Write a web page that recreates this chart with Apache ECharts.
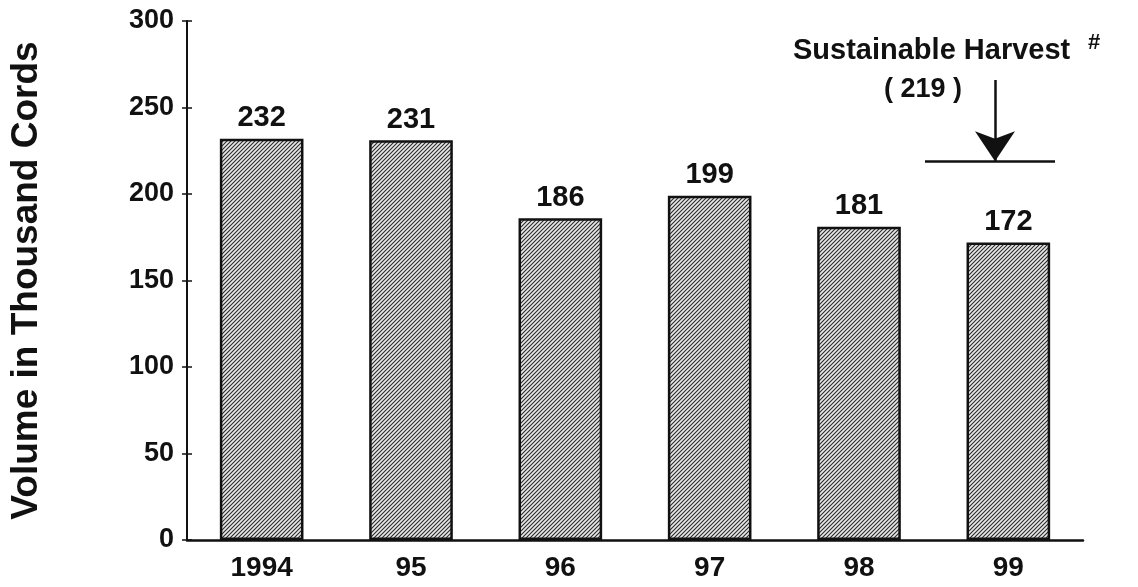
<!DOCTYPE html>
<html>
<head>
<meta charset="utf-8">
<script src="https://cdn.jsdelivr.net/npm/echarts@6/dist/echarts.min.js"></script>
<style>
html,body{margin:0;padding:0;background:#fff;}
#chart{width:1138px;height:587px;}
</style>
</head>
<body>
<div id="chart"></div>
<script>
const categories = ['1994', '95', '96', '97', '98', '99'];
const volumes = [232, 231, 186, 199, 181, 172];
const sustainableHarvest = 219;
const yTicks = { min: 0, max: 300, interval: 50 };
const axisTitle = 'Volume in Thousand Cords';
const annotationTitle = 'Sustainable Harvest';
const annotationValue = '( 219 )';

function makeHatch() {
  const c = document.createElement('canvas');
  c.width = 4; c.height = 4;
  const ctx = c.getContext('2d');
  ctx.fillStyle = '#e8e8e8';
  ctx.fillRect(0, 0, 4, 4);
  ctx.strokeStyle = '#2a2a2a';
  ctx.lineWidth = 1.1;
  ctx.beginPath();
  ctx.moveTo(-1, 5); ctx.lineTo(5, -1);
  ctx.moveTo(-1, 1); ctx.lineTo(1, -1);
  ctx.moveTo(3, 5); ctx.lineTo(5, 3);
  ctx.stroke();
  return c;
}

const font = '"Liberation Sans", Arial, Helvetica, sans-serif';
const chart = echarts.init(document.getElementById('chart'), null, { renderer: 'canvas' });

chart.setOption({
  backgroundColor: '#ffffff',
  animation: false,
  textStyle: { fontFamily: font },
  grid: { left: 187, right: 55, top: 21, bottom: 47, containLabel: false },
  xAxis: {
    type: 'category',
    data: categories,
    boundaryGap: true,
    axisLine: { lineStyle: { color: '#111', width: 2.5 } },
    axisTick: { show: false },
    axisLabel: { color: '#111', fontSize: 28, fontWeight: 'bold', fontFamily: font, margin: 14 }
  },
  yAxis: [{
    type: 'value',
    min: yTicks.min, max: yTicks.max, interval: yTicks.interval,
    name: axisTitle,
    nameLocation: 'middle',
    nameRotate: 90,
    nameGap: 142,
    nameTextStyle: { color: '#111', fontSize: 37, fontWeight: 'bold', fontFamily: font },
    splitLine: { show: false },
    axisLine: { show: true, lineStyle: { color: '#111', width: 2 } },
    axisTick: { show: true, length: 5, lineStyle: { color: '#111', width: 1.5 } },
    axisLabel: { color: '#111', fontSize: 27, fontWeight: 'bold', fontFamily: font, margin: 13 }
  }, {
    type: 'value',
    position: 'left',
    min: yTicks.min, max: yTicks.max, interval: yTicks.interval,
    splitLine: { show: false },
    axisLine: { show: false },
    axisTick: { show: true, inside: true, length: 5, lineStyle: { color: '#111', width: 1.5 } },
    axisLabel: { show: false }
  }],
  series: [{
    type: 'bar',
    data: volumes,
    barWidth: '56%',
    itemStyle: {
      color: { image: makeHatch(), repeat: 'repeat' },
      borderColor: '#111',
      borderWidth: 2.5
    },
    label: {
      show: true,
      position: 'top',
      distance: 6,
      color: '#111',
      fontSize: 29,
      fontWeight: 'bold',
      fontFamily: font
    },
    markLine: {
      silent: true,
      animation: false,
      label: { show: false },
      data: [
        [
          { x: 925, yAxis: sustainableHarvest, symbol: 'none' },
          { x: 1055, yAxis: sustainableHarvest, symbol: 'none' }
        ],
        [
          { x: 995, y: 80, symbol: 'none' },
          { x: 995, yAxis: sustainableHarvest, symbol: 'arrow', symbolSize: [30, 30] }
        ]
      ],
      lineStyle: { color: '#111', width: 2.5, type: 'solid' }
    }
  }],
  graphic: [
    {
      type: 'text',
      left: 793, top: 36,
      style: { text: annotationTitle, fill: '#111', font: 'bold 29px ' + font }
    },
    {
      type: 'text',
      left: 1088, top: 32,
      style: { text: '#', fill: '#111', font: 'bold 22px ' + font }
    },
    {
      type: 'text',
      left: 884, top: 76,
      style: { text: annotationValue, fill: '#111', font: 'bold 27px ' + font }
    }
  ]
});
</script>
</body>
</html>
